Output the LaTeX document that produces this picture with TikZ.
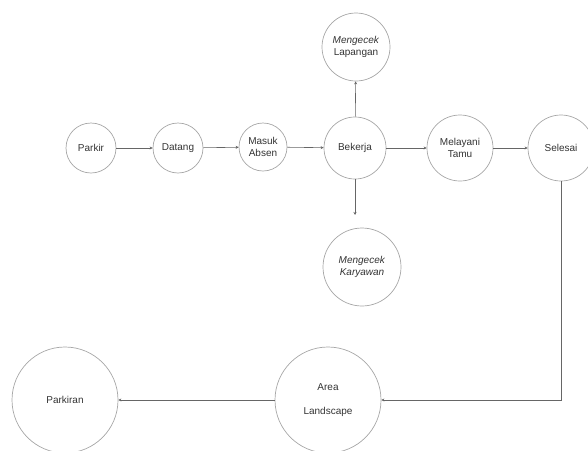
\documentclass[tikz,border=0pt]{standalone}
\usepackage{fontspec}
\setmainfont{Liberation Sans}
\usepackage{tikz}
\usetikzlibrary{shapes,arrows.meta,positioning,calc}

\begin{document}
\begin{tikzpicture}[
      x=1pt, y=-1pt,
      >={Stealth[length=3pt,width=3pt]},
      state/.style={draw=gray!70, line width=0.7pt, circle, inner sep=0pt, align=center, text=black!80, font=\fontsize{10}{11.5}\selectfont},
      flow/.style={draw=gray!80!black, line width=0.6pt, ->}
    ]
    \useasboundingbox (0,0) rectangle (588,450);

    \node[state, minimum size=50pt] (parkir) at (91,148) {Parkir};
    \node[state, minimum size=50pt] (datang) at (178,148) {Datang};
    \node[state, minimum size=48pt] (absen) at (263,147) {Masuk\\Absen};
    \node[state, minimum size=62pt] (bekerja) at (355,148) {Bekerja};
    \node[state, minimum size=68pt] (lapangan) at (356,47) {\textit{Mengecek}\\Lapangan};
    \node[state, minimum size=78pt] (karyawan) at (362,267) {\textit{Mengecek}\\\textit{Karyawan}};
    \node[state, minimum size=66pt] (tamu) at (460,148) {Melayani\\Tamu};
    \node[state, minimum size=66pt] (selesai) at (561,148) {Selesai};
    \node[state, minimum size=106pt] (area) at (328,400) {Area\\[12pt]Landscape};
    \node[state, minimum size=106pt] (parkiran) at (65,400) {Parkiran};
    \coordinate (kartip) at (355,215);

    \draw[flow] (parkir) -- (datang);
    \draw[flow] (datang) -- (absen);
    \draw[flow] (absen) -- (bekerja);
    \draw[flow] (bekerja) -- (tamu);
    \draw[flow] (tamu) -- (selesai);
    \draw[flow] (bekerja) -- (lapangan);
    \draw[flow] (bekerja.south) -- (kartip);
    \draw[flow] (selesai) |- (area);
    \draw[flow] (area) -- (parkiran);
  \end{tikzpicture}
\end{document}
